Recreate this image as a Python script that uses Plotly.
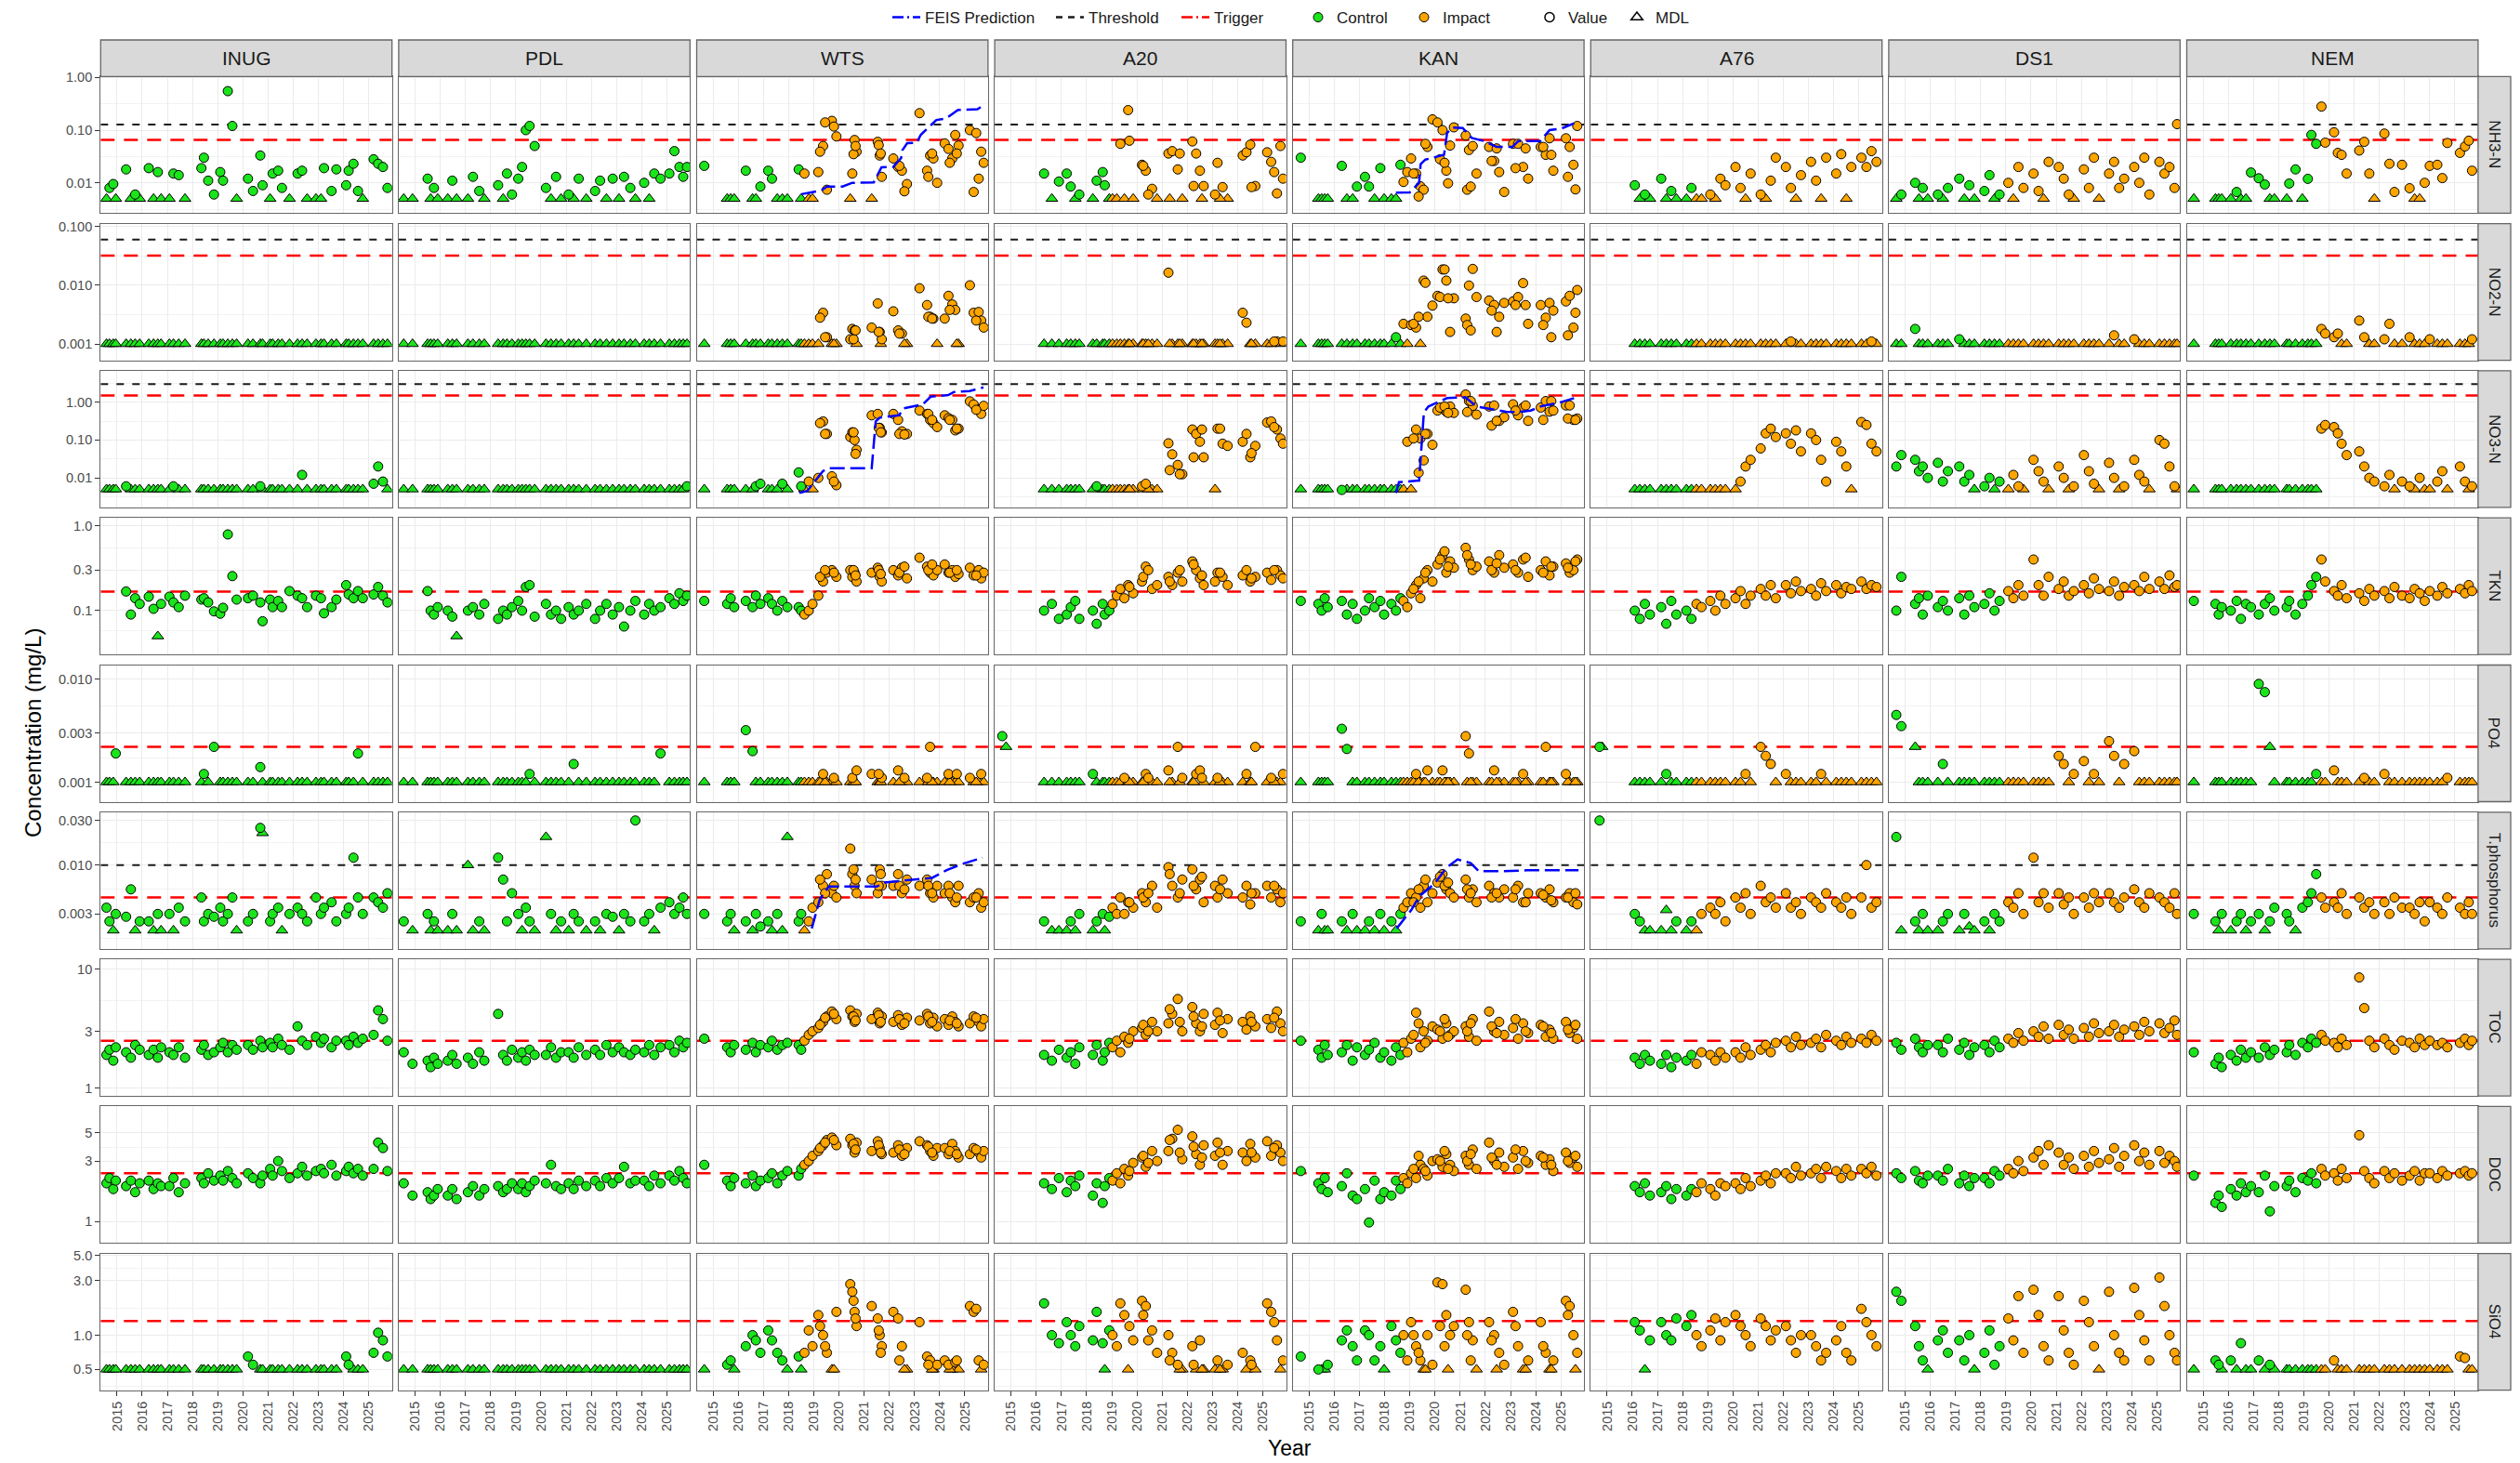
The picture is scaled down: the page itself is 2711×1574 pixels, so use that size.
import plotly.graph_objects as go

SITES = ["INUG", "PDL", "WTS", "A20", "KAN", "A76", "DS1", "NEM"]
PARAMS = ["NH3-N", "NO2-N", "NO3-N", "TKN", "PO4", "T.phosphorus", "TOC", "DOC", "SiO4"]

# ---------------- sampling dates (decimal years) ----------------
INUG_D = [2014.58, 2014.70, 2014.85, 2014.95, 2015.36, 2015.55, 2015.72, 2015.90,
          2016.26, 2016.45, 2016.62, 2016.75, 2017.08, 2017.24, 2017.45, 2017.70,
          2018.35, 2018.45, 2018.62, 2018.85, 2019.10, 2019.21, 2019.40, 2019.58, 2019.75,
          2020.20, 2020.40, 2020.69, 2020.78, 2021.08, 2021.18, 2021.40, 2021.55, 2021.85,
          2022.17, 2022.35, 2022.55, 2022.90, 2023.10, 2023.22, 2023.52, 2023.71,
          2024.10, 2024.20, 2024.39, 2024.57, 2024.76, 2025.19, 2025.37, 2025.56, 2025.74]
PDL_D = [2014.55, 2014.90, 2015.50, 2015.62, 2015.75, 2015.90, 2016.30, 2016.48, 2016.65,
         2017.10, 2017.30, 2017.55, 2017.75, 2018.30, 2018.50, 2018.65, 2018.85,
         2019.10, 2019.25, 2019.40, 2019.55, 2019.75, 2020.20, 2020.40, 2020.60, 2020.80,
         2021.10, 2021.30, 2021.50, 2021.80, 2022.15, 2022.35, 2022.60, 2022.85,
         2023.10, 2023.30, 2023.55, 2023.75, 2024.10, 2024.30, 2024.50, 2024.75,
         2025.10, 2025.30, 2025.50, 2025.65, 2025.80]
WTS_D = [2014.65, 2015.56, 2015.70, 2015.84, 2016.30, 2016.57, 2016.70, 2016.88,
         2017.19, 2017.34, 2017.55, 2017.75, 2017.95, 2018.40, 2018.50, 2018.63, 2018.80, 2018.95,
         2019.18, 2019.37, 2019.52, 2019.72, 2019.90, 2020.45, 2020.53, 2020.62, 2020.70,
         2021.30, 2021.54, 2021.62, 2021.70, 2022.16, 2022.35, 2022.50, 2022.70,
         2023.20, 2023.50, 2023.62, 2023.75, 2023.90, 2024.20, 2024.35, 2024.50, 2024.62, 2024.75,
         2025.20, 2025.35, 2025.55, 2025.65, 2025.75,
         2019.25, 2019.45, 2019.80, 2020.58, 2020.66, 2021.58, 2021.66, 2022.40, 2022.60,
         2023.55, 2023.70, 2024.40, 2024.68, 2025.45]
A20_D = [2014.65, 2014.80,
         2016.31, 2016.62, 2016.90, 2017.21, 2017.37, 2017.55, 2017.71,
         2018.25, 2018.40, 2018.64, 2018.72, 2018.90,
         2019.03, 2019.20, 2019.34, 2019.50, 2019.65, 2019.85,
         2020.20, 2020.35, 2020.60, 2020.80, 2021.25, 2021.40, 2021.62, 2021.80,
         2022.20, 2022.35, 2022.50, 2022.65, 2023.10, 2023.20, 2023.40, 2023.60,
         2024.20, 2024.35, 2024.50, 2024.70, 2025.17, 2025.33, 2025.56, 2025.70, 2025.80,
         2019.70, 2020.25, 2020.45, 2021.30, 2021.70, 2022.25, 2022.58, 2023.30, 2024.55, 2025.45]
KAN_D = [2014.67, 2015.37, 2015.50, 2015.62, 2015.74, 2016.30, 2016.50, 2016.73, 2016.90,
         2017.22, 2017.38, 2017.60, 2017.83, 2017.98, 2018.27, 2018.45, 2018.63, 2018.75, 2018.90,
         2019.05, 2019.25, 2019.42, 2019.55, 2019.70, 2019.90,
         2020.10, 2020.30, 2020.45, 2020.60, 2020.75, 2021.22, 2021.35, 2021.50, 2021.65,
         2022.15, 2022.35, 2022.55, 2022.75, 2023.10, 2023.30, 2023.50, 2023.70,
         2024.20, 2024.40, 2024.55, 2024.70, 2025.20, 2025.35, 2025.50, 2025.65,
         2019.15, 2019.35, 2019.62, 2020.20, 2020.38, 2020.52, 2021.28, 2021.42,
         2022.25, 2022.45, 2023.20, 2023.60, 2024.30, 2024.62, 2025.28, 2025.58]
A76_D = [2014.70, 2014.80,
         2016.10, 2016.30, 2016.50, 2016.70, 2017.15, 2017.35, 2017.55, 2017.75,
         2018.15, 2018.35, 2018.55, 2018.75, 2019.10, 2019.30, 2019.50, 2019.70,
         2020.10, 2020.30, 2020.50, 2020.70, 2021.10, 2021.30, 2021.50, 2021.70,
         2022.10, 2022.30, 2022.50, 2022.70, 2023.10, 2023.30, 2023.50, 2023.70,
         2024.10, 2024.30, 2024.50, 2024.70, 2025.10, 2025.30, 2025.50, 2025.70]
DS1_D = [2014.65, 2014.85, 2015.40, 2015.55, 2015.70, 2015.90, 2016.30, 2016.50, 2016.70,
         2017.15, 2017.35, 2017.55, 2017.75, 2018.15, 2018.35, 2018.55, 2018.75,
         2019.10, 2019.30, 2019.50, 2019.70, 2020.10, 2020.30, 2020.50, 2020.70,
         2021.10, 2021.30, 2021.50, 2021.70, 2022.10, 2022.30, 2022.50, 2022.70,
         2023.10, 2023.30, 2023.50, 2023.70, 2024.10, 2024.30, 2024.50, 2024.70,
         2025.10, 2025.30, 2025.50, 2025.70, 2025.80]
NEM_D = [2014.63, 2015.49, 2015.62, 2015.74, 2016.10, 2016.33, 2016.50, 2016.70, 2016.90,
         2017.21, 2017.45, 2017.65, 2017.83, 2018.32, 2018.42, 2018.67, 2018.94,
         2019.16, 2019.30, 2019.49, 2019.70, 2019.85, 2020.20, 2020.35, 2020.50, 2020.70,
         2021.20, 2021.40, 2021.60, 2021.80, 2022.20, 2022.40, 2022.60, 2022.90,
         2023.20, 2023.40, 2023.60, 2023.80, 2024.00, 2024.30, 2024.50, 2024.70,
         2025.20, 2025.40, 2025.55, 2025.68]

# first sampling date counted as "Impact" (None = control site)
IMPACT_START = {"INUG": None, "PDL": None, "WTS": 2018.55, "A20": 2019.0, "KAN": 2018.7,
                "A76": 2018.5, "DS1": 2018.8, "NEM": 2019.6}

# values: positive = measured value, 0 = below MDL (plotted at MDL),
# negative = below a raised detection limit |v|, None = not measured
NH3 = {
 "INUG": [0, .008, .0095, 0, .018, 0, .006, 0, .019, 0, .016, 0, 0, .015, .014, 0,
          .019, .03, .011, .006, .016, .011, .55, .12, 0, .012, .007, .033, .009,
          0, .015, .017, .008, 0, .015, .017, 0, 0, 0, .019, .007, .018,
          .009, .017, .023, .007, 0, .028, .023, .02, .008],
 "PDL": [0, 0, .012, 0, .008, 0, 0, .011, 0, 0, .013, .007, 0, .009, 0, .015, .006,
         .012, .02, .1, .12, .05, .008, 0, .013, 0, .006, 0, .012, 0, .007, .011, 0, .012,
         0, .013, .008, 0, .01, 0, .015, .012, .015, .04, .02, .013, .02],
 "WTS": [.021, 0, 0, 0, .017, 0, 0, .0085, .017, .012, 0, 0, 0, .018, 0, .015, 0, 0,
         .016, .05, .0074, .15, .076, 0, .015, .065, .039, 0, .06, .033, .013,
         .029, .02, .017, .0095, .21, .017, .033, .029, .01, .056, .044, .029, .081, .051,
         .1, .0067, .012, .039, .024,
         .039, .14, .117, .035, .05, .052, .036, .021, .0069, .013, .036, .024, .036, .088],
 "A20": [None, None,
         .015, 0, .0106, .015, .0085, 0, .006, 0, .011, .016, .009, 0, 0, 0, .055, 0, .24, 0,
         .022, .017, .0077, 0, .036, .04, .018, 0, .061, .036, .017, .0087,
         .006, .024, .0083, 0, .033, .038, .053, .0087, .038, .025, .0063, .05, .012,
         .063, .021, .006, 0, .036, .0087, 0, 0, .0083, .016],
 "KAN": [.03, 0, 0, 0, 0, .021, 0, 0, .0085, .013, .0085, 0, .019, 0, 0, 0, .022, .0104, .016,
         .029, .015, .0086, .0074, .048, .16, .14, .1, .017, .051, .113, .079, .042, .05, .015,
         .048, .026, .016, .0067, .055, .055, .02, .012, .048, .034, .07, .017, .07, .048, .022, .12,
         .015, .0055, .055, .028, .024, .0098, .0074, .0085, .026, .045, .019, .045, .048, .034, .013, .0075],
 "A76": [None, None,
         .009, 0, .006, 0, .012, 0, .007, 0, 0, .008, 0, 0, .006, 0, .012, .009,
         .02, .008, 0, .015, .006, 0, .011, .03, .02, .008, 0, .014, .025, .011, 0, .03,
         .015, .035, 0, .02, .03, .02, .04, .025],
 "DS1": [0, .006, .01, 0, .008, 0, .006, 0, .008, .012, 0, .009, 0, .007, .014, 0, .006,
         .01, 0, .02, .008, .015, .007, 0, .025, .02, .012, .006, 0, .018, .008, .03, 0,
         .015, .025, .008, .012, .02, .01, .03, .006, .025, .015, .02, .008, .13],
 "NEM": [0, 0, 0, 0, 0, .0067, 0, 0, .0157, .0122, .0093, 0, 0, 0, .0097, .018, 0,
         .0119, .0812, .055, .28, .058, .091, .037, .034, .015, .041, .06, .015, 0,
         .086, .023, .0067, .022, .0079, 0, 0, .01, .021, .022, .0123, .057, .037, .049, .063, .017],
}
NO2 = {
 "INUG": [0, 0, 0, 0, 0, 0, 0, 0, 0, 0, 0, 0, 0, 0, 0, 0, 0, 0, 0, 0, 0, 0, 0, 0, 0,
          0, 0, 0, 0, 0, 0, 0, 0, 0, 0, 0, 0, 0, 0, 0, 0, 0, 0, 0, 0, 0, 0, 0, 0, 0, 0],
 "PDL": [0, 0, 0, 0, 0, 0, 0, 0, 0, 0, 0, 0, 0, 0, 0, 0, 0, 0, 0, 0, 0, 0, 0, 0,
         0, 0, 0, 0, 0, 0, 0, 0, 0, 0, 0, 0, 0, 0, 0, 0, 0, 0, 0, 0, 0, 0, 0],
 "WTS": [0, 0, 0, 0, 0, 0, 0, 0, 0, 0, 0, 0, 0, 0, 0, 0, 0, 0,
         0, .0034, .0013, 0, 0, .0012, .0018, .0017, 0, .0019, .0049, .0016, .0012,
         .0036, .0017, .0015, 0, .0089, .0046, .0029, .0027, 0, .0027, .0066, .0047, .0038, 0,
         .01, .0034, .0035, .0025, .0019,
         .0028, .0013, 0, .0012, .0017, .0016, 0, .0015, 0, .0029, .0027, .0038, 0, .0025],
 "A20": [None, None,
         0, 0, 0, 0, 0, 0, 0, 0, 0, 0, 0, 0, 0, 0, 0, 0, 0, 0, 0, 0, 0, 0,
         .0164, 0, 0, 0, 0, 0, 0, 0, 0, 0, 0, 0, .0034, .0023, 0, 0, 0, 0, .0011, 0, .0011,
         0, 0, 0, 0, 0, 0, 0, 0, 0, .0011],
 "KAN": [0, 0, 0, 0, 0, 0, 0, 0, 0, 0, 0, 0, 0, 0, 0, .0013, 0, .0022, 0,
         .0021, .0019, 0, .012, .0029, .0045, .0066, .0186, .012, .0016, .006,
         .0027, .0099, .019, .0063, .0055, .0046, .0029, .005, .0053, .0063, .0109, .0022,
         .0046, .0028, .005, .0037, .0053, .0066, .0019, .0083,
         .0022, .0029, .011, .0063, .0186, .006, .0021, .0017, .0037, .0016, .0046, .0046, .0021, .0013, .0014, .0034],
 "A76": [None, None,
         0, 0, 0, 0, 0, 0, 0, 0, 0, 0, 0, 0, 0, 0, 0, 0, 0, 0, 0, 0,
         0, 0, 0, 0, 0, .0011, 0, 0, 0, 0, 0, 0, 0, 0, 0, 0, 0, 0, .0011, 0],
 "DS1": [0, 0, .0018, 0, 0, 0, 0, 0, 0, .0012, 0, 0, 0, 0, 0, 0, 0,
         0, 0, 0, 0, 0, 0, 0, 0, 0, 0, 0, 0, 0, 0, 0, 0,
         0, .0014, 0, 0, .0012, 0, 0, 0, 0, 0, 0, 0, 0],
 "NEM": [0, 0, 0, 0, 0, 0, 0, 0, 0, 0, 0, 0, 0, 0, 0, 0, 0, 0, 0, 0, .0018, .0015,
         .0013, .0015, 0, 0, .0025, .0013, 0, 0, .0012, .0022, 0, 0, .0013, 0, 0, 0,
         .0012, 0, 0, 0, 0, 0, 0, .0012],
}
NO3 = {
 "INUG": [0, 0, 0, 0, .006, 0, 0, 0, 0, 0, 0, 0, 0, .006, 0, 0, 0, 0, 0, 0, 0, 0, 0, 0, 0,
          0, 0, .006, 0, 0, 0, 0, 0, 0, 0, .012, 0, 0, 0, 0, 0, 0, 0, 0, 0, 0, 0, .007, .02, .008, 0],
 "PDL": [0, 0, 0, 0, 0, 0, 0, 0, 0, 0, 0, 0, 0, 0, 0, 0, 0, 0, 0, 0, 0, 0, 0, 0,
         0, 0, 0, 0, 0, 0, 0, 0, 0, 0, 0, 0, 0, 0, 0, 0, 0, 0, 0, 0, 0, 0, .006],
 "WTS": [0, 0, 0, 0, 0, 0, .006, .007, 0, 0, 0, .007, 0, .014, .006, 0, .008, 0,
         .01, .31, .145, .011, .0064, .12, .16, .1, .055, .45, .49, .21, .16,
         .49, .34, .17, .145, .6, .49, .34, .28, .22, .45, .38, .34, .18, .2, 1.05, .87, .63, .49, .8,
         .28, .145, .008, .16, .043, .21, .16, .145, .14, .49, .34, .34, .2, .63],
 "A20": [None, None,
         0, 0, 0, 0, 0, 0, 0, 0, .006, 0, 0, 0, 0, 0, 0, 0, 0, 0, .006, .007, 0, 0,
         .082, .042, .022, .0125, .19, .145, .09, .035, 0, .2, .08, .07, .09, .145, .035, .07,
         .29, .31, .19, .11, .08,
         0, 0, 0, .016, .0125, .035, .19, .2, .045, .22],
 "KAN": [0, 0, 0, 0, 0, .0048, 0, 0, 0, 0, 0, 0, 0, 0, 0, 0, 0, 0, .09,
         0, .19, .11, .029, .145, .075, .6, .72, .56, .77, .52, 1.6, 1.07, .8, .47,
         .77, .82, .32, .4, .88, .45, .72, .32, .72, 1.07, .56, .6, .82, .82, .34, .37,
         .11, .0137, .145, .72, .77, .52, .55, 1.07, .24, .32, .6, .82, .34, 1.07, .37, .34],
 "A76": [None, None,
         0, 0, 0, 0, 0, 0, 0, 0, 0, 0, 0, 0, 0, 0, 0, 0, 0, .008, .02, .03,
         .06, .15, .2, .12, .15, .08, .18, .05, .15, .1, .03, .008, .09, .05, .02, 0, .3, .25, .08, .05],
 "DS1": [.02, .04, .03, .015, .02, .01, .025, .008, .015, .02, .008, .012, 0, .006, .01, 0, .008,
         0, .012, .006, 0, .03, .015, .008, 0, .02, .01, 0, .006, .04, .015, .007, 0,
         .025, .01, 0, .006, .03, .012, .008, 0, .1, .08, .02, .006, 0],
 "NEM": [0, 0, 0, 0, 0, 0, 0, 0, 0, 0, 0, 0, 0, 0, 0, 0, 0, 0, 0, 0, .2, .25,
         .22, .15, .08, .04, .05, .02, .01, .008, .006, .012, 0, .008, .006, 0, .01, 0,
         0, .008, .015, 0, .02, .008, 0, .006],
}
TKN = {
 "INUG": [None, None, None, None, .168, .09, .14, .12, .146, .105, 0, .12, .146, .125, .11, .15,
          .135, .14, .125, .098, .092, .108, .79, .255, .135, .14, .15, .125, .075,
          .135, .11, .13, .11, .17, .15, .14, .11, .15, .14, .093, .11, .135,
          .2, .155, .14, .17, .14, .155, .19, .15, .125],
 "PDL": [None, None, .17, .1, .09, .11, .1, .085, 0, .1, .11, .09, .12, .08, .1, .09, .11,
         .13, .1, .19, .2, .085, .12, .09, .1, .08, .11, .09, .1, .12, .08, .1, .12, .09,
         .11, .065, .1, .13, .09, .12, .1, .11, .14, .12, .16, .13, .15],
 "WTS": [.13, .12, .14, .11, .13, .11, .15, .12, .14, .12, .1, .13, .11, .11, .1, .09, .1, .12,
         .15, .22, .28, .3, .25, .3, .25, .28, .22, .28, .32, .25, .22, .3, .26, .32, .24,
         .42, .33, .28, .26, .3, .35, .28, .3, .25, .27, .32, .26, .3, .24, .28,
         .25, .3, .28, .3, .26, .3, .27, .28, .33, .3, .35, .28, .3, .26],
 "A20": [None, None,
         .1, .12, .08, .09, .11, .13, .08, .1, .07, .12, .09, .1, .12, .15, .18, .14, .2, .16,
         .22, .33, .18, .2, .25, .2, .28, .22, .38, .3, .24, .2, .22, .28, .25, .2,
         .26, .3, .22, .25, .28, .23, .3, .26, .24,
         .19, .25, .3, .22, .3, .35, .26, .28, .24, .3],
 "KAN": [.13, .12, .1, .14, .11, .13, .09, .12, .08, .1, .14, .11, .13, .09, .12, .1, .14, .13, .11,
         .16, .2, .14, .24, .3, .22, .35, .45, .28, .38, .32, .55, .4, .3, .33,
         .38, .28, .45, .32, .35, .28, .4, .25, .3, .38, .26, .33, .36, .28, .3, .4,
         .18, .22, .28, .4, .5, .33, .45, .35, .3, .36, .3, .42, .28, .33, .32, .38],
 "A76": [None, None,
         .1, .08, .12, .09, .11, .07, .13, .09, .1, .08, .12, .11, .13, .1, .15, .12,
         .14, .17, .12, .15, .18, .15, .2, .14, .2, .16, .22, .17, .18, .15, .21, .17,
         .2, .16, .19, .18, .22, .18, .2, .19],
 "DS1": [.1, .25, .12, .14, .09, .15, .11, .13, .1, .14, .09, .15, .11, .12, .16, .1, .13,
         .17, .14, .2, .15, .4, .2, .15, .25, .18, .22, .15, .17, .2, .16, .24, .18,
         .17, .22, .15, .19, .2, .17, .25, .18, .22, .18, .26, .19, .2],
 "NEM": [.13, .12, .09, .11, .1, .13, .08, .12, .11, .09, .12, .14, .1, .11, .13, .09, .12,
         .15, .2, .25, .4, .22, .17, .15, .2, .14, .16, .13, .18, .15, .17, .14, .19, .15,
         .14, .18, .16, .13, .17, .15, .19, .16, .18, .16, .2, .17],
}
PO4 = {
 "INUG": [0, 0, 0, .0019, 0, 0, 0, 0, 0, 0, 0, 0, 0, 0, 0, 0, 0, .0012, 0, .0022, 0, 0, 0, 0, 0,
          0, 0, .0014, 0, 0, 0, 0, 0, 0, 0, 0, 0, 0, 0, 0, 0, 0, 0, 0, 0, .0019, 0, 0, 0, 0, 0],
 "PDL": [0, 0, 0, 0, 0, 0, 0, 0, 0, 0, 0, 0, 0, 0, 0, 0, 0, 0, 0, 0, .0012, 0,
         0, 0, 0, 0, 0, .0015, 0, 0, 0, 0, 0, 0, 0, 0, 0, 0, 0, 0, 0, .0019, 0, 0, 0, 0, 0],
 "WTS": [0, 0, 0, 0, .0032, .002, 0, 0, 0, 0, 0, 0, 0, 0, 0, 0, 0, 0,
         0, .0012, 0, 0, 0, 0, .0011, 0, .0013, .0012, 0, 0, .0011, 0, .0013, 0, 0,
         0, .0011, .0022, 0, 0, 0, .0012, 0, 0, 0, .0011, 0, 0, .0012, 0,
         0, 0, .0011, 0, 0, .0012, 0, 0, .0011, 0, 0, 0, .0012, 0],
 "A20": [.0028, -.0022,
         0, 0, 0, 0, 0, 0, 0, .0012, 0, 0, 0, 0, 0, 0, 0, .0011, 0, 0,
         0, .0012, 0, 0, .0013, 0, .0022, .0011, 0, .0012, .0013, 0, 0, .0011, 0, 0,
         0, .0012, 0, .0022, 0, .0011, 0, 0, .0012,
         0, 0, .0011, 0, 0, 0, .0011, 0, 0, 0],
 "KAN": [0, 0, 0, 0, 0, .0033, .0021, 0, 0, 0, 0, 0, 0, 0, 0, 0, 0, 0, 0,
         0, .0012, 0, 0, .0013, 0, 0, .0013, 0, 0, 0, .0028, .0019, 0, 0,
         0, .0013, 0, 0, 0, 0, .0012, 0, 0, .0022, 0, 0, .0012, 0, 0, 0,
         0, 0, 0, 0, 0, 0, 0, 0, 0, 0, 0, 0, 0, 0, 0, 0],
 "A76": [.0022, -.0022,
         0, 0, 0, 0, 0, .0012, 0, 0, 0, 0, 0, 0, 0, 0, 0, 0, 0, 0, .0012, 0,
         .0022, .0018, .0015, 0, .0012, 0, 0, 0, 0, 0, .0012, 0, 0, 0, 0, 0, 0, 0, 0, 0],
 "DS1": [.0045, .0035, -.0022, 0, 0, 0, 0, .0015, 0, 0, 0, 0, 0, 0, 0, 0, 0,
         0, 0, 0, 0, 0, 0, 0, 0, .0018, .0015, 0, .0012, .0016, 0, .0012, 0,
         .0025, .0018, 0, .0015, .002, 0, 0, 0, 0, 0, 0, 0, 0],
 "NEM": [0, 0, 0, 0, 0, 0, 0, 0, 0, .009, .0075, -.0022, 0, 0, 0, 0, 0, 0, 0, .0012, 0, 0,
         .0013, 0, 0, 0, 0, .0011, 0, 0, .0012, 0, 0, 0, 0, 0, 0, 0, 0, 0, 0, .0011, 0, 0, 0, 0],
}
TP = {
 "INUG": [.0035, .0025, 0, .003, .0028, .0055, 0, .0025, .0025, 0, .003, 0, .003, 0, .0035, .0025,
          .0045, .0025, .003, .0028, .0035, .0025, .003, .0045, 0, .0025, .003, .025, -.022,
          .0025, .003, .0035, 0, .003, .0035, .003, .0025, .0045, .003, .0035, .004, .0025,
          .003, .0035, .012, .0045, .003, .0045, .004, .0035, .005],
 "PDL": [.0025, 0, .003, 0, .0025, 0, 0, .003, 0, -.01, 0, .0025, 0, .012, .007, .0025, .005,
         .003, 0, .0035, .0025, 0, -.02, .003, 0, .0025, 0, .003, .0025, 0, .0025, 0, .003, .0028,
         0, .003, .0025, .03, .0025, .003, 0, .0035, .004, .003, .0035, .0045, .003],
 "WTS": [.003, .0025, .003, 0, .0025, 0, .003, .0022, .0025, 0, .003, 0, -.02, .0025, .003, 0, .0025, .0035,
         .004, .006, .008, .005, .0045, .015, .008, .006, .005, .007, .005, .009, .006,
         .006, .008, .005, .007, .006, .007, .005, .0045, .006, .005, .006, .0045, .004, .006,
         .004, .0045, .005, .0035, .004,
         .007, .005, .006, .009, .007, .006, .008, .006, .0055, .006, .005, .005, .0045, .0045],
 "A20": [None, None,
         .0025, 0, 0, 0, .0025, 0, .003, 0, .0025, .003, 0, .0028, .0035, .003, .0045, .003, .004, .0035,
         .005, .004, .006, .0035, .0095, .006, .0045, .007, .009, .0055, .007, .004,
         .006, .0045, .007, .005, .0045, .006, .0038, .005, .006, .0045, .0055, .004, .005,
         .004, .0045, .005, .008, .005, .006, .0075, .0055, .005, .006],
 "KAN": [.0025, 0, .003, 0, 0, .0025, 0, .003, 0, 0, .0025, 0, .003, 0, .0025, 0, .003, .0035, .004,
         .005, .0045, .0035, .006, .004, .005, .0065, .008, .0055, .005, .0045,
         .007, .0045, .0055, .004, .006, .005, .0045, .0055, .0045, .006, .004, .005,
         .005, .0045, .0055, .004, .0045, .005, .004, .0038,
         .004, .0055, .007, .0075, .006, .0065, .0055, .005, .0045, .005, .0055, .004, .0048, .0042, .0045, .005],
 "A76": [.03, None,
         .003, .0025, 0, 0, 0, -.0033, 0, .0025, 0, .0025, 0, .003, .0035, .003, .004, .0025,
         .0045, .0035, .005, .003, .006, .004, .0045, .0035, .005, .0035, .004, .003,
         .0045, .004, .0035, .005, .004, .0035, .0045, .003, .0045, .01, .0035, .004],
 "DS1": [.02, 0, .0025, 0, .003, 0, 0, .0025, .003, 0, .003, -.0022, 0, .0025, 0, .003, .0025,
         .004, .0035, .005, .003, .012, .004, .005, .0035, .005, .0038, .0045, .003,
         .0045, .0035, .005, .004, .005, .004, .0035, .0045, .0055, .004, .0035, .005,
         .0045, .004, .0035, .005, .003],
 "NEM": [.003, .0025, 0, .003, 0, .0025, .003, 0, .0025, .003, 0, .0025, .0035, .003, .0025, 0, .0035,
         .004, .005, .008, .0045, .0035, .004, .0035, .005, .003, .0045, .0035, .004, .003,
         .004, .003, .0045, .0035, .0035, .003, .004, .0025, .004, .0035, .003, .0045, .0035, .003, .004, .003],
}
TOC = {
 "INUG": [1.9, 2.1, 1.7, 2.2, 2.0, 1.8, 2.3, 2.1, 1.9, 2.1, 1.8, 2.2, 2.0, 1.9, 2.2, 1.8,
          2.1, 2.3, 1.9, 2.0, 2.2, 2.4, 2.0, 2.3, 2.1, 2.3, 2.1, 2.5, 2.2, 2.4, 2.2, 2.6, 2.3, 2.1,
          3.3, 2.5, 2.3, 2.7, 2.4, 2.6, 2.2, 2.5, 2.5, 2.3, 2.7, 2.4, 2.6, 2.8, 4.5, 3.8, 2.5],
 "PDL": [2.0, 1.6, 1.7, 1.5, 1.8, 1.6, 1.7, 1.9, 1.6, 1.8, 1.6, 2.0, 1.7, 4.2, 1.9, 1.7, 2.1,
         1.8, 2.0, 1.7, 2.1, 1.9, 1.9, 2.2, 1.8, 2.0, 2.0, 1.8, 2.2, 1.9, 2.1, 1.9, 2.3, 2.0,
         2.2, 2.0, 1.9, 2.1, 2.0, 2.3, 1.9, 2.2, 2.3, 2.0, 2.5, 2.2, 2.4],
 "WTS": [2.6, 2.2, 2.0, 2.3, 2.1, 2.4, 2.0, 2.3, 2.2, 2.5, 2.1, 2.3, 2.4, 2.3, 2.1, 2.5, 2.8, 3.0,
         3.2, 3.6, 4.0, 4.4, 3.8, 4.5, 4.0, 3.6, 4.2, 3.8, 4.3, 3.5, 4.0, 3.6, 4.1, 3.4, 3.9,
         3.7, 4.2, 3.5, 3.9, 3.3, 3.8, 3.4, 4.0, 3.6, 3.3, 3.5, 4.0, 3.6, 3.3, 3.8,
         3.4, 3.9, 4.2, 4.0, 3.7, 4.1, 3.6, 3.8, 3.5, 4.0, 3.6, 3.7, 3.5, 3.9],
 "A20": [None, None,
         1.9, 1.7, 2.1, 1.8, 2.0, 1.6, 2.2, 1.9, 2.3, 1.7, 2.0, 2.4, 2.2, 2.5, 2.0, 2.7, 2.4, 3.0,
         3.2, 2.8, 3.6, 3.0, 3.5, 4.2, 5.6, 3.0, 4.8, 3.5, 3.0, 4.2, 3.4, 4.3, 2.9, 3.8,
         3.6, 3.1, 4.0, 3.3, 3.8, 3.2, 4.4, 3.5, 3.0,
         2.6, 3.4, 3.0, 4.6, 3.6, 4.0, 3.3, 3.7, 3.6, 3.9],
 "KAN": [2.5, 2.1, 1.8, 2.3, 1.9, 2.0, 2.3, 1.7, 2.2, 1.9, 2.1, 2.4, 1.8, 2.0, 1.7, 2.2, 1.9, 2.4, 2.0,
         2.6, 4.3, 2.2, 3.0, 2.5, 3.3, 3.1, 2.6, 3.5, 2.8, 3.0, 3.3, 2.7, 3.8, 2.5,
         4.4, 3.0, 3.6, 2.8, 3.2, 2.6, 3.5, 2.9, 3.4, 2.7, 3.1, 2.6, 3.6, 2.9, 3.2, 2.6,
         2.8, 3.5, 2.4, 3.0, 3.8, 2.7, 3.0, 3.5, 3.3, 2.9, 3.8, 3.0, 3.3, 2.9, 3.1, 3.4],
 "A76": [None, None,
         1.8, 1.6, 1.9, 1.7, 1.6, 1.9, 1.5, 1.8, 1.7, 1.9, 1.6, 2.0, 1.9, 1.7, 2.0, 1.8,
         2.0, 1.8, 2.2, 1.9, 2.1, 2.3, 2.0, 2.4, 2.5, 2.2, 2.7, 2.3, 2.4, 2.6, 2.2, 2.8,
         2.5, 2.3, 2.7, 2.4, 2.6, 2.4, 2.8, 2.5],
 "DS1": [2.4, 2.1, 2.6, 2.2, 2.0, 2.3, 2.3, 2.0, 2.6, 2.1, 2.4, 1.9, 2.2, 2.3, 2.0, 2.5, 2.2,
         2.6, 2.4, 2.9, 2.5, 3.0, 2.7, 3.3, 2.6, 3.4, 2.8, 3.1, 2.6, 3.2, 2.7, 3.5, 2.9,
         3.0, 3.4, 2.7, 3.1, 3.3, 2.8, 3.6, 3.0, 3.5, 2.9, 3.2, 3.7, 2.8],
 "NEM": [2.0, 1.6, 1.8, 1.5, 1.9, 1.7, 2.1, 1.8, 2.0, 1.8, 2.2, 1.9, 2.1, 2.0, 2.3, 1.9, 2.4,
         2.2, 2.6, 2.4, 2.8, 2.5, 2.4, 2.2, 2.6, 2.3, 8.5, 4.7, 2.5, 2.2, 2.6, 2.3, 2.1, 2.5,
         2.4, 2.2, 2.6, 2.3, 2.5, 2.3, 2.4, 2.2, 2.4, 2.6, 2.3, 2.5],
}
DOC = {
 "INUG": [2.0, 2.2, 1.8, 2.1, 1.9, 2.1, 1.7, 2.0, 2.1, 1.8, 2.0, 1.9, 1.9, 2.2, 1.7, 2.0,
          2.2, 2.0, 2.4, 2.1, 2.3, 2.1, 2.5, 2.2, 2.0, 2.4, 2.2, 2.0, 2.3, 2.6, 2.3, 3.0, 2.5, 2.2,
          2.4, 2.7, 2.3, 2.5, 2.6, 2.4, 2.8, 2.3, 2.5, 2.7, 2.4, 2.6, 2.3, 2.6, 4.2, 3.8, 2.5],
 "PDL": [2.0, 1.6, 1.7, 1.5, 1.6, 1.8, 1.6, 1.8, 1.5, 1.7, 1.9, 1.6, 1.8, 1.9, 1.7, 1.8, 2.0,
         1.8, 2.0, 1.7, 1.9, 2.1, 2.0, 2.8, 1.9, 1.8, 2.0, 1.8, 2.1, 1.9, 2.1, 1.9, 2.2, 2.0,
         2.2, 2.7, 2.0, 2.1, 2.1, 1.9, 2.3, 2.0, 2.3, 2.1, 2.5, 2.2, 2.0],
 "WTS": [2.8, 2.1, 1.9, 2.2, 2.0, 2.3, 1.9, 2.1, 2.2, 2.4, 2.0, 2.3, 2.5, 2.3, 2.6, 2.8, 3.0, 3.3,
         3.6, 4.0, 4.4, 4.6, 4.0, 4.5, 4.0, 3.5, 4.2, 3.6, 4.3, 3.8, 3.4, 3.5, 4.0, 3.3, 3.8,
         4.3, 4.0, 3.6, 3.3, 3.8, 3.8, 3.4, 4.1, 3.6, 3.2, 3.4, 3.8, 3.5, 3.2, 3.6,
         3.8, 4.2, 4.4, 4.1, 3.7, 4.0, 3.5, 3.7, 3.4, 3.9, 3.5, 3.6, 3.4, 3.7],
 "A20": [None, None,
         2.0, 1.8, 2.2, 1.7, 2.1, 1.9, 2.3, 1.6, 2.0, 1.4, 1.9, 2.2, 2.1, 2.4, 2.0, 2.6, 2.3, 2.9,
         3.2, 2.7, 3.6, 3.0, 3.6, 4.5, 5.3, 3.1, 4.7, 3.4, 2.8, 4.0, 3.3, 4.2, 2.8, 3.6,
         3.5, 3.0, 4.1, 3.2, 4.3, 3.3, 4.0, 3.5, 3.0,
         2.5, 3.3, 2.9, 4.4, 3.5, 3.9, 3.2, 3.5, 3.5, 3.8],
 "KAN": [2.5, 2.0, 1.8, 2.2, 1.7, 1.9, 2.4, 1.6, 1.5, 1.8, .98, 2.1, 1.5, 1.7, 1.6, 2.1, 1.8, 2.2, 2.0,
         2.4, 2.2, 2.8, 2.6, 2.3, 3.0, 3.1, 2.7, 3.4, 2.8, 2.5, 3.3, 2.8, 3.7, 2.6,
         4.2, 3.0, 3.5, 2.7, 3.2, 2.6, 3.6, 2.9, 3.3, 2.8, 3.1, 2.5, 3.5, 2.9, 3.2, 2.7,
         2.6, 3.3, 2.5, 3.0, 3.6, 2.6, 3.0, 3.4, 3.2, 2.8, 3.7, 3.0, 3.2, 2.8, 3.0, 3.3],
 "A76": [None, None,
         1.9, 1.7, 2.0, 1.6, 1.7, 1.9, 1.5, 1.8, 1.6, 1.8, 1.7, 2.0, 1.8, 1.6, 2.0, 1.9,
         2.0, 1.8, 2.2, 1.9, 2.1, 2.3, 2.0, 2.4, 2.4, 2.2, 2.7, 2.3, 2.4, 2.6, 2.2, 2.7,
         2.5, 2.2, 2.6, 2.3, 2.6, 2.4, 2.7, 2.3],
 "DS1": [2.4, 2.2, 2.5, 2.1, 2.0, 2.3, 2.3, 2.1, 2.6, 2.0, 2.3, 1.9, 2.2, 2.2, 2.0, 2.5, 2.3,
         2.6, 2.4, 3.0, 2.5, 3.2, 3.6, 2.8, 4.0, 3.5, 2.8, 3.2, 2.6, 3.3, 2.7, 3.6, 2.9,
         3.1, 3.8, 2.7, 3.3, 4.0, 3.0, 3.5, 2.8, 3.6, 2.9, 3.3, 3.0, 2.7],
 "NEM": [2.3, 1.4, 1.6, 1.3, 1.8, 1.6, 2.0, 1.7, 1.9, 1.7, 2.3, 1.2, 1.9, 1.9, 2.1, 1.7, 2.2,
         2.1, 2.4, 2.0, 2.6, 2.3, 2.4, 2.1, 2.6, 2.2, 4.8, 2.5, 2.2, 2.0, 2.5, 2.2, 2.4, 2.1,
         2.3, 2.5, 2.1, 2.4, 2.4, 2.2, 2.5, 2.3, 2.4, 2.5, 2.3, 2.4],
}
SIO4 = {
 "INUG": [0, 0, 0, 0, 0, 0, 0, 0, 0, 0, 0, 0, 0, 0, 0, 0, 0, 0, 0, 0, 0, 0, 0, 0, 0,
          .65, .55, 0, 0, 0, 0, 0, 0, 0, 0, 0, 0, 0, 0, 0, 0, 0, .65, .55, 0, 0, 0, .7, 1.05, .9, .65],
 "PDL": [0, 0, 0, 0, 0, 0, 0, 0, 0, 0, 0, 0, 0, 0, 0, 0, 0, 0, 0, 0, 0, 0, 0, 0,
         0, 0, 0, 0, 0, 0, 0, 0, 0, 0, 0, 0, 0, 0, 0, 0, 0, 0, 0, 0, 0, 0, 0],
 "WTS": [0, .55, .6, 0, .8, 1.0, .9, .7, 1.1, .9, .7, .6, 0, .65, 0, .7, 1.1, .8,
         1.5, 1.0, .7, 0, 1.6, 2.8, 2.4, 1.6, 1.2, 1.8, 1.4, 1.0, .8, 1.6, 1.4, .8, 0,
         1.3, .65, .6, 0, .55, .6, .55, 0, .58, 0, 1.8, 1.6, .6, 0, .55,
         1.2, .8, 0, 2.0, 1.4, 1.1, .7, .6, 0, .55, 0, 0, .6, 1.7],
 "A20": [None, None,
         1.9, 1.0, .85, 1.3, 1.0, .8, 1.2, .9, 1.6, .85, 0, 1.1, 1.0, .8, 1.9, 1.5, 0, .9,
         2.0, 1.8, 1.1, .7, 1.0, .7, .55, 0, .8, 0, .9, 0, 0, .6, 0, .55, .7, 0, .6, 0,
         1.9, 1.6, .9, 0, .6,
         1.2, 1.5, .9, .6, 0, .55, 0, 0, .55, 1.3],
 "KAN": [.65, .5, 0, 0, .55, .9, 1.1, .8, .6, 1.1, 1.0, .6, .8, 0, 1.2, .9, .7, 1.0, .6,
         1.3, .8, .6, 0, 1.0, .55, 2.9, 2.8, 1.5, 1.0, 1.2, 2.5, 1.3, .9, 0,
         1.3, 1.0, .7, .55, 1.6, .8, 0, .6, 1.3, .7, 0, .6, 2.0, 1.8, 1.0, .7,
         1.0, .7, 0, 1.2, .8, 0, 1.0, .6, .9, 0, 1.2, 0, .8, 0, 1.5, 0],
 "A76": [None, None,
         1.3, 1.1, 0, .9, 1.3, 1.0, .9, 1.4, 1.2, 1.5, 1.0, .8, 1.1, 1.4, .9, 1.3,
         1.5, 1.2, 1.0, .8, 1.4, 1.2, .9, 1.1, 1.2, .9, .7, 1.0, 1.0, .8, .6, .7,
         .9, 1.2, .7, .6, 1.7, 1.3, 1.0, .8],
 "DS1": [2.4, 2.0, 1.2, .8, .6, 0, .9, 1.1, .7, .9, .6, 1.0, 0, .7, 1.1, .55, .8,
         1.4, .9, 2.2, .7, 2.5, 1.5, .8, .6, 2.2, 1.1, .7, .55, 2.0, 1.3, .8, 0,
         2.4, 1.0, .7, .6, 2.6, 1.5, .9, .6, 3.2, 1.8, 1.0, .7, .6],
 "NEM": [0, .6, .55, 0, .6, 0, .85, 0, 0, .6, 0, .55, 0, 0, 0, 0, 0, 0, 0, 0, 0, 0,
         .6, 0, 0, 0, 0, 0, 0, 0, 0, 0, 0, 0, 0, 0, 0, 0, 0, 0, 0, 0, .65, .63, 0, 0],
}

# FEIS prediction curves
FEIS_WTS_NH3_YR = [2018.51, 2019.29, 2019.52, 2020.14, 2020.53, 2021.38, 2021.69, 2022.16, 2022.47,
                   2022.52, 2022.71, 2023.09, 2023.25, 2023.64, 2023.87, 2024.26, 2024.73, 2025.5, 2025.74]
FEIS_WTS_NH3 = [0.0061, 0.0071, 0.0085, 0.0085, 0.010, 0.0102, 0.0197, 0.020, 0.0296,
                0.0415, 0.0567, 0.058, 0.0817, 0.123, 0.156, 0.167, 0.242, 0.25, 0.296]
FEIS_WTS_NO3_YR = [2018.43, 2018.74, 2019.36, 2019.6, 2021.3, 2021.46, 2021.62, 2022.39, 2022.55,
                   2023.33, 2023.64, 2024.34, 2024.57, 2025.19, 2025.74]
FEIS_WTS_NO3 = [0.004, 0.0045, 0.015, 0.018, 0.018, 0.31, 0.39, 0.45, 0.68, 0.87, 1.4, 1.54, 1.86, 1.96, 2.47]
FEIS_WTS_TP_YR = [2018.92, 2019.24, 2019.6, 2021.5, 2021.8, 2023.05, 2023.7, 2024.3, 2025.0, 2025.7]
FEIS_WTS_TP = [0.0021, 0.0043, 0.0059, 0.0059, 0.0065, 0.007, 0.0073, 0.0089, 0.0105, 0.012]
FEIS_KAN_NH3_YR = [2018.45, 2019.0, 2019.37, 2019.43, 2019.62, 2020.36, 2020.48, 2020.67, 2021.1,
                   2021.46, 2021.96, 2022.45, 2023.07, 2023.31, 2024.18, 2024.55, 2025.04, 2025.53]
FEIS_KAN_NH3 = [0.0065, 0.0066, 0.01, 0.0226, 0.0276, 0.034, 0.0875, 0.112, 0.11,
                0.071, 0.062, 0.048, 0.048, 0.062, 0.062, 0.1, 0.108, 0.135]
FEIS_KAN_NO3_YR = [2018.45, 2018.57, 2019.37, 2019.43, 2019.5, 2019.56, 2019.74, 2020.48, 2021.2,
                   2021.65, 2022.82, 2023.3, 2023.8, 2024.2, 2025.04, 2025.53]
FEIS_KAN_NO3 = [0.004, 0.0077, 0.0085, 0.039, 0.145, 0.54, 0.77, 1.28, 1.35, 0.77, 0.56, 0.55, 0.6, 0.77, 1.02, 1.28]
FEIS_KAN_TP_YR = [2018.48, 2019.06, 2019.37, 2020.0, 2020.46, 2020.9, 2021.42, 2021.74, 2022.7, 2023.65, 2025.7]
FEIS_KAN_TP = [0.0021, 0.0033, 0.0046, 0.0064, 0.0094, 0.0115, 0.0105, 0.0086, 0.0086, 0.0088, 0.0088]

MDL = {"NH3-N": 0.005, "NO2-N": 0.001, "NO3-N": 0.005, "TKN": 0.05, "PO4": 0.001,
       "T.phosphorus": 0.002, "TOC": 0.5, "DOC": 0.5, "SiO4": 0.5}
THRESHOLD = {"NH3-N": 0.128, "NO2-N": 0.06, "NO3-N": 3.0, "T.phosphorus": 0.01}
TRIGGER = {"NH3-N": 0.065, "NO2-N": 0.032, "NO3-N": 1.5, "TKN": 0.168, "PO4": 0.0022,
           "T.phosphorus": 0.0045, "TOC": 2.5, "DOC": 2.4, "SiO4": 1.33}
YRANGE = {"NH3-N": [-2.575, 0.018], "NO2-N": [-3.279, -0.949], "NO3-N": [-2.78, 0.83],
          "TKN": [-1.517, 0.092], "PO4": [-3.19, -1.862], "T.phosphorus": [-2.896, -1.434],
          "TOC": [-0.066, 1.082], "DOC": [-0.172, 0.909], "SiO4": [-0.483, 0.715]}
YTICKS = {"NH3-N": [0.01, 0.1, 1], "NO2-N": [0.001, 0.01, 0.1], "NO3-N": [0.01, 0.1, 1],
          "TKN": [0.1, 0.3, 1], "PO4": [0.001, 0.003, 0.01], "T.phosphorus": [0.003, 0.01, 0.03],
          "TOC": [1, 3, 10], "DOC": [1, 3, 5], "SiO4": [0.5, 1, 3, 5]}
YTICKTEXT = {"NH3-N": ["0.01", "0.10", "1.00"], "NO2-N": ["0.001", "0.010", "0.100"],
             "NO3-N": ["0.01", "0.10", "1.00"], "TKN": ["0.1", "0.3", "1.0"],
             "PO4": ["0.001", "0.003", "0.010"], "T.phosphorus": ["0.003", "0.010", "0.030"],
             "TOC": ["1", "3", "10"], "DOC": ["1", "3", "5"], "SiO4": ["0.5", "1.0", "3.0", "5.0"]}
YMINOR = {"NH3-N": [0.00316, 0.0316, 0.316], "NO2-N": [0.00316, 0.0316],
          "NO3-N": [0.00316, 0.0316, 0.316, 3.16], "TKN": [0.0577, 0.173, 0.548],
          "PO4": [0.00173, 0.00548], "T.phosphorus": [0.00164, 0.00548, 0.0173],
          "TOC": [1.733, 5.477], "DOC": [1.733, 3.873], "SiO4": [0.354, 0.707, 1.733, 3.873]}
YEARS = list(range(2015, 2026))

DATES = {"INUG": INUG_D, "PDL": PDL_D, "WTS": WTS_D, "A20": A20_D, "KAN": KAN_D,
         "A76": A76_D, "DS1": DS1_D, "NEM": NEM_D}
VALUES = {"NH3-N": NH3, "NO2-N": NO2, "NO3-N": NO3, "TKN": TKN, "PO4": PO4,
          "T.phosphorus": TP, "TOC": TOC, "DOC": DOC, "SiO4": SIO4}
FEIS = {("WTS", "NH3-N"): (FEIS_WTS_NH3_YR, FEIS_WTS_NH3), ("WTS", "NO3-N"): (FEIS_WTS_NO3_YR, FEIS_WTS_NO3),
        ("WTS", "T.phosphorus"): (FEIS_WTS_TP_YR, FEIS_WTS_TP), ("KAN", "NH3-N"): (FEIS_KAN_NH3_YR, FEIS_KAN_NH3),
        ("KAN", "NO3-N"): (FEIS_KAN_NO3_YR, FEIS_KAN_NO3), ("KAN", "T.phosphorus"): (FEIS_KAN_TP_YR, FEIS_KAN_TP)}

# ---------------- styling / layout ----------------
W, H = 2711, 1574
X0, PW, DX = 108.3, 313.4, 320.6
Y0, PH, DY = 82.3, 147.0, 158.3
XR = [2014.35, 2025.92]
FONT = "Liberation Sans, Arial, sans-serif"
GREEN, ORANGE = "#1BE41B", "#FFA500"
RED, BLUE, BLACK = "#FF0000", "#0000FF", "#1A1A1A"
THR_DASH, TRIG_DASH, FEIS_DASH = "8px,9px", "15px,10px", "16px,6px"

fig = go.Figure()

# legend entries: one small legend per key, positioned like the reference
LEGEND_KEYS = [
    ("FEIS Prediction", "lines", dict(color=BLUE, width=2.5, dash="12px,4px,2px,4px"), None, 955),
    ("Threshold", "lines", dict(color=BLACK, width=2.5, dash="7px,6px"), None, 1131),
    ("Trigger", "lines", dict(color=RED, width=2.5, dash="12px,4px,2px,4px"), None, 1266),
    ("Control", "markers", None, dict(symbol="circle", size=10, color=GREEN, line=dict(color="black", width=1)), 1398),
    ("Impact", "markers", None, dict(symbol="circle", size=10, color=ORANGE, line=dict(color="black", width=1)), 1512),
    ("Value", "markers", None, dict(symbol="circle-open", size=10, color="black", line=dict(width=1.5)), 1647),
    ("MDL", "markers", None, dict(symbol="triangle-up-open", size=11, color="black", line=dict(width=1.5)), 1741),
]
legend_layout = {}
for k, (name, mode, line, marker, lx) in enumerate(LEGEND_KEYS):
    lid = "legend" if k == 0 else f"legend{k + 1}"
    kw = dict(x=[None], y=[None], mode=mode, name=name, legend=lid)
    if line:
        kw["line"] = line
    if marker:
        kw["marker"] = marker
    fig.add_trace(go.Scatter(**kw))
    legend_layout[lid] = dict(orientation="h", xanchor="left", yanchor="middle", x=lx / W, y=1 - 19 / H,
                              font=dict(family=FONT, size=17, color="#1A1A1A"), bgcolor="rgba(0,0,0,0)",
                              itemwidth=30, borderwidth=0)

layout = {}
shapes, annotations = [], []
mismatch = []

for r, p in enumerate(PARAMS):
    for c, s in enumerate(SITES):
        i = r * 8 + c + 1
        sfx = "" if i == 1 else str(i)
        xref, yref = "x" + sfx, "y" + sfx
        left = X0 + c * DX
        top = Y0 + r * DY
        layout["xaxis" + sfx] = dict(
            domain=[left / W, (left + PW) / W], range=XR, anchor=yref,
            tickmode="array", tickvals=YEARS, ticktext=[str(y) for y in YEARS], tickangle=-90,
            showticklabels=(r == len(PARAMS) - 1), ticks="outside" if r == len(PARAMS) - 1 else "",
            ticklen=5, tickwidth=1.3, tickcolor="#333333",
            tickfont=dict(family=FONT, size=14.5, color="#4D4D4D"),
            showgrid=True, gridcolor="#EBEBEB", gridwidth=1.3,
            showline=True, linecolor="#666666", linewidth=1.3, mirror=True,
            zeroline=False, fixedrange=True, automargin=False)
        layout["yaxis" + sfx] = dict(
            domain=[1 - (top + PH) / H, 1 - top / H], type="log", range=YRANGE[p], anchor=xref,
            tickmode="array", tickvals=YTICKS[p], ticktext=YTICKTEXT[p],
            showticklabels=(c == 0), ticks="outside" if c == 0 else "",
            ticklen=5, tickwidth=1.3, tickcolor="#333333",
            tickfont=dict(family=FONT, size=14.5, color="#4D4D4D"),
            showgrid=True, gridcolor="#EBEBEB", gridwidth=1.3,
            minor=dict(tickmode="array", tickvals=YMINOR[p], showgrid=True,
                       gridcolor="#F2F2F2", gridwidth=0.8, ticks=""),
            showline=True, linecolor="#666666", linewidth=1.3, mirror=True,
            zeroline=False, fixedrange=True, automargin=False)

        if p in THRESHOLD:
            fig.add_trace(go.Scatter(x=XR, y=[THRESHOLD[p]] * 2, mode="lines", showlegend=False,
                                     line=dict(color=BLACK, width=2, dash=THR_DASH),
                                     xaxis=xref, yaxis=yref, hoverinfo="skip"))
        if p in TRIGGER:
            fig.add_trace(go.Scatter(x=XR, y=[TRIGGER[p]] * 2, mode="lines", showlegend=False,
                                     line=dict(color=RED, width=2.5, dash=TRIG_DASH),
                                     xaxis=xref, yaxis=yref, hoverinfo="skip"))

        dates = DATES[s]
        vals = VALUES[p][s]
        if len(dates) != len(vals):
            mismatch.append(f"{p}/{s}:{len(vals)}vs{len(dates)}")
        cx, cy, cc, tx, ty, tc = [], [], [], [], [], []
        start = IMPACT_START[s]
        for d, v in zip(dates, vals):
            if v is None:
                continue
            col = ORANGE if (start is not None and d >= start) else GREEN
            if v > 0:
                cx.append(d); cy.append(v); cc.append(col)
            else:
                tx.append(d); ty.append(MDL[p] if v == 0 else -v); tc.append(col)
        if tx:
            fig.add_trace(go.Scatter(x=tx, y=ty, mode="markers", showlegend=False, xaxis=xref, yaxis=yref,
                                     marker=dict(symbol="triangle-up", size=11, color=tc,
                                                 line=dict(color="black", width=1))))
        if cx:
            fig.add_trace(go.Scatter(x=cx, y=cy, mode="markers", showlegend=False, xaxis=xref, yaxis=yref,
                                     marker=dict(symbol="circle", size=10, color=cc,
                                                 line=dict(color="black", width=1))))
        if (s, p) in FEIS:
            fx, fy = FEIS[(s, p)]
            fig.add_trace(go.Scatter(x=fx, y=fy, mode="lines", showlegend=False, xaxis=xref, yaxis=yref,
                                     line=dict(color=BLUE, width=2.5, dash=FEIS_DASH), hoverinfo="skip"))

for c, s in enumerate(SITES):
    left = X0 + c * DX
    shapes.append(dict(type="rect", xref="paper", yref="paper", x0=left / W, x1=(left + PW) / W,
                       y0=1 - 82.3 / H, y1=1 - 43.0 / H, fillcolor="#D9D9D9",
                       line=dict(color="#666666", width=1.3), layer="above"))
    annotations.append(dict(x=(left + PW / 2) / W, y=1 - 62.6 / H, xref="paper", yref="paper",
                            xanchor="center", yanchor="middle",
                            text=s, showarrow=False, font=dict(family=FONT, size=21, color="#1A1A1A")))
RX0, RX1 = X0 + 7 * DX + PW, 2701.0
for r, p in enumerate(PARAMS):
    top = Y0 + r * DY
    shapes.append(dict(type="rect", xref="paper", yref="paper", x0=RX0 / W, x1=RX1 / W,
                       y0=1 - (top + PH) / H, y1=1 - top / H, fillcolor="#D9D9D9",
                       line=dict(color="#666666", width=1.3), layer="above"))
    annotations.append(dict(x=((RX0 + RX1) / 2) / W, y=1 - (top + PH / 2) / H, xref="paper", yref="paper",
                            xanchor="center", yanchor="middle",
                            text=p, textangle=90, showarrow=False,
                            font=dict(family=FONT, size=17, color="#1A1A1A")))

annotations.append(dict(x=35 / W, y=1 - 789 / H, xref="paper", yref="paper", text="Concentration (mg/L)",
                        xanchor="center", yanchor="middle",
                        textangle=-90, showarrow=False, font=dict(family=FONT, size=24, color="black")))
annotations.append(dict(x=1387 / W, y=1 - 1558 / H, xref="paper", yref="paper", text="Year",
                        xanchor="center", yanchor="middle",
                        showarrow=False, font=dict(family=FONT, size=23, color="black")))
if mismatch:
    annotations.append(dict(x=0, y=0, xref="paper", yref="paper", xanchor="left", yanchor="bottom",
                            text="MISMATCH " + " ".join(mismatch), showarrow=False,
                            font=dict(size=12, color="magenta")))

fig.update_layout(
    width=W, height=H, autosize=False,
    margin=dict(l=0, r=0, t=0, b=0, pad=0, autoexpand=False),
    paper_bgcolor="white", plot_bgcolor="white",
    shapes=shapes, annotations=annotations,
    showlegend=True,
    font=dict(family=FONT),
    hovermode=False,
    **legend_layout,
    **layout,
)

fig.write_html("out.html", config={"displayModeBar": False},
               post_script="document.body.style.margin='0px';")
